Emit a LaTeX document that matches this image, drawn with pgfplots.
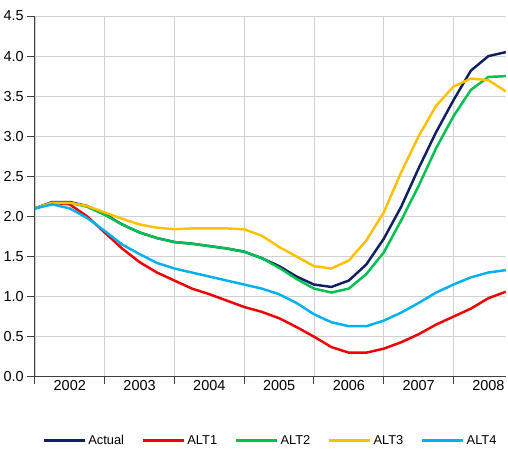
\documentclass[border=0pt]{standalone}
\usepackage{pgfplots}
\pgfplotsset{compat=1.18}
\usepackage{fontspec}
\setmainfont{Liberation Sans}
\definecolor{cact}{RGB}{16,32,96}
\definecolor{c1}{RGB}{240,0,0}
\definecolor{c2}{RGB}{0,192,80}
\definecolor{c3}{RGB}{255,192,0}
\definecolor{c4}{RGB}{0,176,240}
\begin{document}
\begin{tikzpicture}
\begin{axis}[
 width=440pt, height=337pt, scale only axis,
 xmin=2002, xmax=2008.75, ymin=0, ymax=4.5,
 axis x line*=bottom, axis y line*=left,
 axis line style={black!75, line width=1pt},
 xtick={2002,...,2008}, xticklabels={},
 extra x ticks={2002.5,2003.5,2004.5,2005.5,2006.5,2007.5,2008.5},
 extra x tick labels={2002,2003,2004,2005,2006,2007,2008},
 extra x tick style={major tick length=0pt, grid=none},
 minor x tick num=3,
 xtick pos=bottom, ytick pos=left,
 tick align=outside, major tick length=7pt, minor tick length=3pt,
 tick style={black!75, line width=0.8pt},
 ytick={0,0.5,...,4.5},
 yticklabel style={/pgf/number format/.cd,fixed,fixed zerofill,precision=1},
 /pgf/number format/assume math mode=true,
 ticklabel style={font=\fontsize{13.5}{15}\selectfont},
 xmajorgrids, ymajorgrids, grid style={black!18, line width=0.6pt},
 legend style={at={(0.5,-0.15)}, anchor=north, draw=none, legend columns=5, font=\fontsize{12}{14}\selectfont, /tikz/every even column/.style={column sep=14pt}},
 legend image code/.code={\draw[#1, line width=2.8pt] (0cm,0cm) -- (1.35cm,0cm);},
 every axis plot/.append style={line width=2.3pt},
]
\addplot[cact] table[x expr=2002+\coordindex/4, y index=0] {
2.1
2.18
2.18
2.13
2.03
1.9
1.8
1.73
1.68
1.66
1.63
1.6
1.56
1.48
1.38
1.25
1.15
1.12
1.2
1.4
1.72
2.12
2.6
3.05
3.45
3.82
4.0
4.05
};
\addlegendentry{Actual}
\addplot[c1] table[x expr=2002+\coordindex/4, y index=0] {
2.1
2.17
2.15
2.0
1.8
1.6
1.43
1.3
1.2
1.1
1.03
0.95
0.87
0.81
0.73
0.62
0.5
0.37
0.3
0.3
0.35
0.43
0.53
0.65
0.75
0.85
0.98
1.06
};
\addlegendentry{ALT1}
\addplot[c2] table[x expr=2002+\coordindex/4, y index=0] {
2.1
2.17
2.17
2.12
2.02
1.9
1.8
1.73
1.68
1.66
1.63
1.6
1.56
1.48
1.36
1.22
1.1
1.05
1.1
1.28
1.55
1.95
2.38
2.85
3.25
3.58
3.74
3.75
};
\addlegendentry{ALT2}
\addplot[c3] table[x expr=2002+\coordindex/4, y index=0] {
2.1
2.17
2.17
2.13
2.05
1.97
1.9
1.86
1.84
1.85
1.85
1.85
1.84
1.76
1.62
1.5
1.38
1.35
1.45
1.7
2.05
2.55
3.0
3.38
3.62
3.72
3.7
3.56
};
\addlegendentry{ALT3}
\addplot[c4] table[x expr=2002+\coordindex/4, y index=0] {
2.1
2.15
2.1
1.98
1.82
1.65
1.53
1.42
1.35
1.3
1.25
1.2
1.15
1.1
1.03
0.92
0.78
0.68
0.63
0.63
0.7
0.8
0.92
1.05
1.15
1.24
1.3
1.33
};
\addlegendentry{ALT4}
\end{axis}
\path ([yshift=15pt]current axis.north) -- ([yshift=-2pt]current axis.south);
\end{tikzpicture}
\end{document}
